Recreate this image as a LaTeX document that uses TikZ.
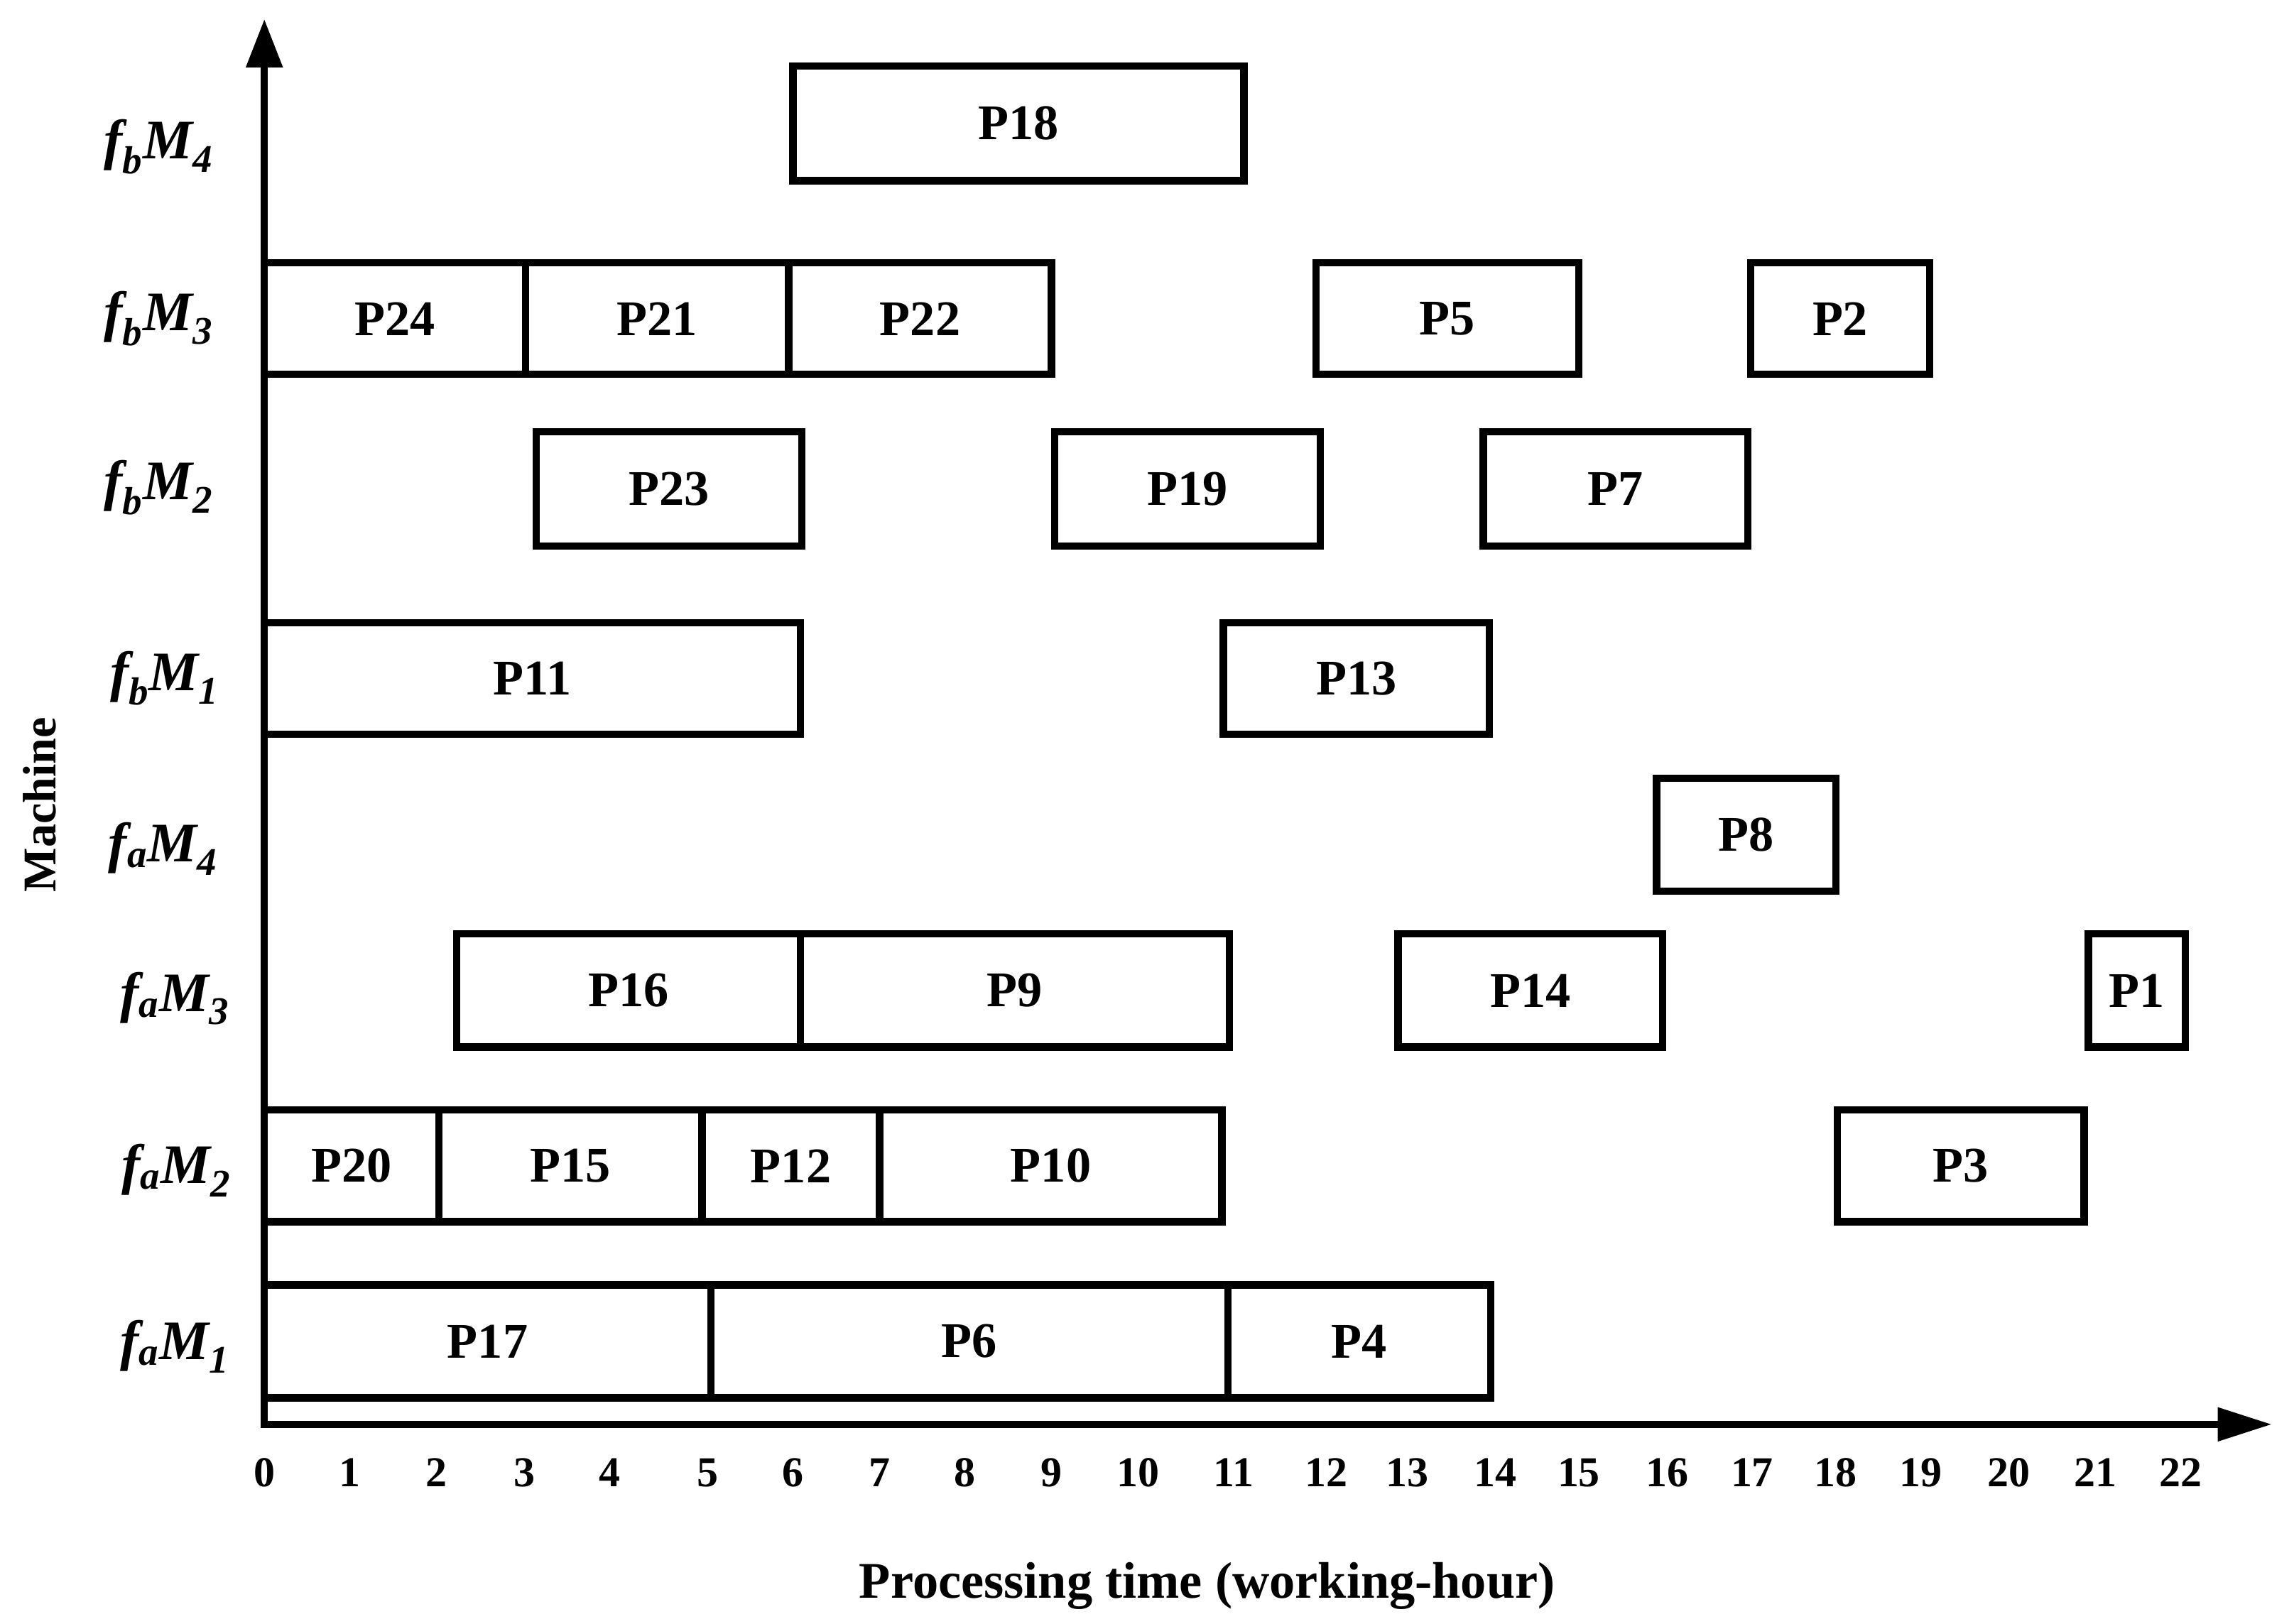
\documentclass[tikz,border=0pt]{standalone}
\usepackage{fontspec}
\setmainfont{Liberation Serif}
\usetikzlibrary{arrows.meta}
\newcommand\jobbox[6]{\node[bx, minimum width={#3-#2}, minimum height={#5-#4}] (#1) at ({(#2+#3)/2},{(#4+#5)/2}) {#6};}
\begin{document}
\begin{tikzpicture}[x=1pt,y=-1pt,
  bx/.style={draw, line width=5pt, font=\fontsize{34}{40}\selectfont\bfseries, inner sep=0pt, outer sep=0pt},
  ticklab/.style={font=\fontsize{29}{34}\selectfont\bfseries, inner sep=0pt},
  mlab/.style={font=\fontsize{38}{44}\selectfont\bfseries\itshape, inner sep=0pt},
  axisline/.style={line width=5pt}]
\useasboundingbox (0,0) rectangle (1562,1105.5);
% axes
\coordinate (ybase) at (180,972.5);
\coordinate (ytip) at (180,13);
\coordinate (xbase) at (177.5,970);
\coordinate (xtip) at (1547,970);
\draw[axisline,-{Triangle[length=33pt,width=24pt]}] (ybase) -- (ytip);
\draw[axisline,-{Triangle[length=37pt,width=22pt]}] (xbase) -- (xtip);
% fbM4
\jobbox{P18}{540}{847}{45}{123}{P18}
% fbM3
\jobbox{P24}{180}{358}{179}{255}{P24}
\jobbox{P21}{358}{537}{179}{255}{P21}
\jobbox{P22}{537}{716}{179}{255}{P22}
\jobbox{P5}{896}{1075}{179}{255}{P5}
\jobbox{P2}{1192}{1314}{179}{255}{P2}
% fbM2
\jobbox{P23}{365}{546}{294}{372}{P23}
\jobbox{P19}{718}{899}{294}{372}{P19}
\jobbox{P7}{1010}{1190}{294}{372}{P7}
% fbM1
\jobbox{P11}{180}{545}{424}{500}{P11}
\jobbox{P13}{833}{1014}{424}{500}{P13}
% faM4
\jobbox{P8}{1128}{1250}{530}{607}{P8}
% faM3
\jobbox{P16}{311}{545}{636}{713}{P16}
\jobbox{P9}{545}{837}{636}{713}{P9}
\jobbox{P14}{952}{1132}{636}{713}{P14}
\jobbox{P1}{1422}{1488}{636}{713}{P1}
% faM2
\jobbox{P20}{180}{299}{756}{832}{P20}
\jobbox{P15}{299}{478}{756}{832}{P15}
\jobbox{P12}{478}{599}{756}{832}{P12}
\jobbox{P10}{599}{832}{756}{832}{P10}
\jobbox{P3}{1251}{1419}{756}{832}{P3}
% faM1
\jobbox{P17}{180}{484}{875}{952}{P17}
\jobbox{P6}{484}{836}{875}{952}{P6}
\jobbox{P4}{836}{1015}{875}{952}{P4}
% machine labels
\node[mlab] (fbM4) at (108,100) {f\textsubscript{b}M\textsubscript{4}};
\node[mlab] (fbM3) at (108,217) {f\textsubscript{b}M\textsubscript{3}};
\node[mlab] (fbM2) at (108,332) {f\textsubscript{b}M\textsubscript{2}};
\node[mlab] (fbM1) at (112,462) {f\textsubscript{b}M\textsubscript{1}};
\node[mlab] (faM4) at (111,578) {f\textsubscript{a}M\textsubscript{4}};
\node[mlab] (faM3) at (119,680) {f\textsubscript{a}M\textsubscript{3}};
\node[mlab] (faM2) at (120,797) {f\textsubscript{a}M\textsubscript{2}};
\node[mlab] (faM1) at (119,917) {f\textsubscript{a}M\textsubscript{1}};
% tick labels
\foreach \t/\x in {0/180,1/238,2/297,3/357,4/415,5/482,6/540,7/599,8/657,9/716,10/775,11/840,12/903,13/958,14/1018,15/1075,16/1135,17/1193,18/1250,19/1308,20/1368,21/1427,22/1485}
  \node[ticklab] (tick\t) at (\x,1003) {\t};
% axis titles
\node[rotate=90, font=\fontsize{32}{38}\selectfont\bfseries, inner sep=0pt] (ylab) at (27,548) {Machine};
\node[font=\fontsize{35}{40}\selectfont\bfseries, inner sep=0pt] (xlab) at (822,1080) {Processing time (working-hour)};
\end{tikzpicture}
\end{document}
